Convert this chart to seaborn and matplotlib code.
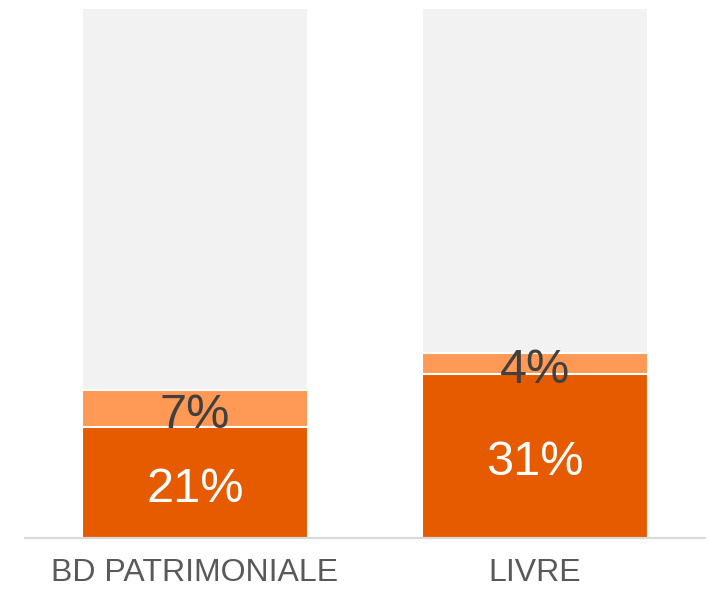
import numpy as np
import pandas as pd
import matplotlib
matplotlib.use("Agg")
import matplotlib.pyplot as plt
import seaborn as sns

# values (percent)
categories = ["BD PATRIMONIALE", "LIVRE"]
main_share = [21, 31]
extra_share = [7, 4]
total = [100, 100]

sns.set_style("white")
plt.rcParams['font.family'] = ['Liberation Sans', 'DejaVu Sans']

df = pd.DataFrame({
    "cat": categories,
    "main": main_share,
    "extra": extra_share,
    "total": total,
})
df["upper"] = df["main"] + df["extra"]

fig = plt.figure(figsize=(7.09, 5.90), dpi=100)
ax = fig.add_axes([0.0353, 0.0881, 0.9591, 0.8983])

# stacked by overlaying cumulative bars
sns.barplot(data=df, x="cat", y="total", color="#F2F2F2", width=0.662,
            edgecolor="white", linewidth=1.5, saturation=1, ax=ax)
sns.barplot(data=df, x="cat", y="upper", color="#FF9955", width=0.662,
            edgecolor="white", linewidth=1.5, saturation=1, ax=ax)
sns.barplot(data=df, x="cat", y="main", color="#E65A00", width=0.662,
            edgecolor="white", linewidth=1.5, saturation=1, ax=ax)

for i, row in df.iterrows():
    ax.text(i, row["main"] / 2 - 0.4, f"{row['main']}%", ha="center",
            va="center_baseline", color="white", fontsize=35)
    ax.text(i, row["main"] + row["extra"] / 2 - 0.4, f"{row['extra']}%", ha="center",
            va="center_baseline", color="#404040", fontsize=35)

ax.set_xlim(-0.5, 1.5)
ax.set_ylim(0, 100)
ax.set_xlabel("")
ax.set_ylabel("")
ax.set_yticks([])
ax.tick_params(axis="x", length=0, labelsize=23, labelcolor="#595959", pad=14.5)
for s in ["top", "left", "right"]:
    ax.spines[s].set_visible(False)
ax.spines["bottom"].set_color("#D9D9D9")
ax.spines["bottom"].set_linewidth(1.5)

fig.savefig("out.png", dpi=100)
